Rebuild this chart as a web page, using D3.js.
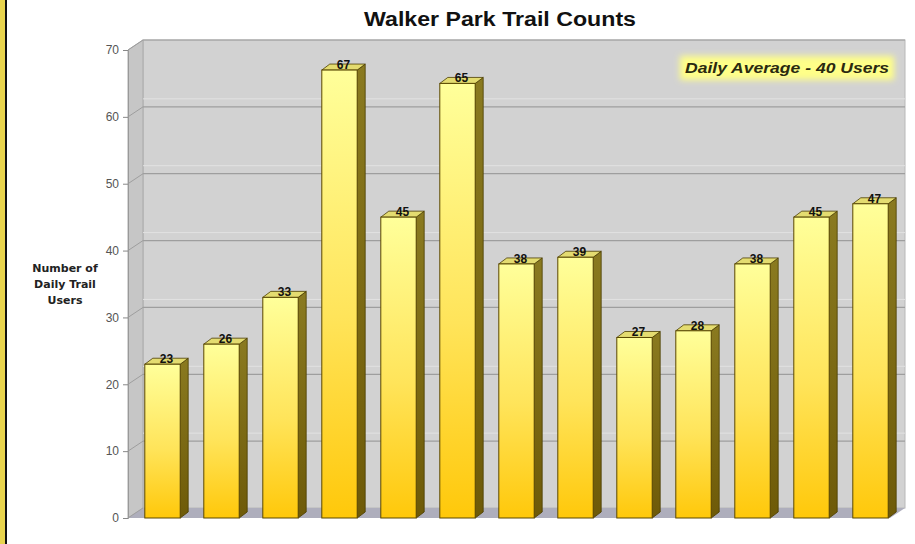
<!DOCTYPE html>
<html>
<head>
<meta charset="utf-8">
<script src="https://cdn.jsdelivr.net/npm/d3@7"></script>
<style>
  body { margin: 0; background: #fff; }
  svg { display: block; font-family: "Liberation Sans", Arial, sans-serif; }
</style>
</head>
<body>
<svg id="chart" width="915" height="544"></svg>
<script>
// data
const months = ["1", "2", "3", "4", "5", "6", "7", "8", "9", "10", "11", "12", "13"]
const users = [23, 26, 33, 67, 45, 65, 38, 39, 27, 28, 38, 45, 47]
const yTicks = [0, 10, 20, 30, 40, 50, 60, 70]
const title = "Walker Park Trail Counts"
const yLabel = ["Number of", "Daily Trail", "Users"]
const note = "Daily Average - 40 Users"

const svg = d3.select("#chart")
const wallDx = 15, wallDy = -10   // depth of the walls
const barDx = 8, barDy = -6       // depth of a bar

const y = d3.scaleLinear().domain([0, 70]).range([518, 50])
const x = d3.scaleBand().domain(months).range([133, 900])
    .paddingInner(0.4).paddingOuter(0.2)

const xLeft = 128, xRight = 890

// gradients
const defs = svg.append("defs")
let g1 = defs.append("linearGradient").attr("id", "front")
    .attr("x1", 0).attr("y1", 0).attr("x2", 0).attr("y2", 1)
g1.append("stop").attr("offset", "0%").attr("stop-color", "#ffff9a")
g1.append("stop").attr("offset", "55%").attr("stop-color", "#ffe45a")
g1.append("stop").attr("offset", "100%").attr("stop-color", "#ffc80a")
let g2 = defs.append("linearGradient").attr("id", "side")
    .attr("x1", 0).attr("y1", 0).attr("x2", 0).attr("y2", 1)
g2.append("stop").attr("offset", "0%").attr("stop-color", "#8a7a20")
g2.append("stop").attr("offset", "100%").attr("stop-color", "#6e5a08")
let glow = defs.append("filter").attr("id", "glow")
    .attr("x", "-10%").attr("y", "-40%").attr("width", "120%").attr("height", "180%")
glow.append("feGaussianBlur").attr("stdDeviation", 3)

// left page border
svg.append("rect").attr("x", 0).attr("y", 0).attr("width", 5).attr("height", 544).attr("fill", "#e8d44e")
svg.append("rect").attr("x", 5).attr("y", 0).attr("width", 2).attr("height", 544).attr("fill", "#111")

// walls and floor
svg.append("rect")
    .attr("x", xLeft + wallDx).attr("y", y(70) + wallDy)
    .attr("width", xRight - xLeft).attr("height", y(0) - y(70))
    .attr("fill", "#d2d2d2").attr("stroke", "#b8b8b8")
svg.append("polygon")
    .attr("points", [[xLeft, y(0)], [xLeft, y(70)], [xLeft + wallDx, y(70) + wallDy], [xLeft + wallDx, y(0) + wallDy]].join(" "))
    .attr("fill", "#c6c6c6").attr("stroke", "#aaa")
svg.append("polygon")
    .attr("points", [[xLeft, y(0)], [xRight, y(0)], [xRight + wallDx, y(0) + wallDy], [xLeft + wallDx, y(0) + wallDy]].join(" "))
    .attr("fill", "#aeaebc")

// gridlines
const grid = svg.append("g")
grid.selectAll("line.back").data(yTicks.filter(d => d > 0)).join("line")
    .attr("x1", xLeft + wallDx).attr("x2", xRight + wallDx)
    .attr("y1", d => y(d) + wallDy).attr("y2", d => y(d) + wallDy)
    .attr("stroke", "#9e9e9e").attr("stroke-width", 1.2)
grid.selectAll("line.hi").data(yTicks.filter(d => d > 0 && d < 70)).join("line")
    .attr("x1", xLeft + wallDx).attr("x2", xRight + wallDx)
    .attr("y1", d => y(d) + wallDy - 8).attr("y2", d => y(d) + wallDy - 8)
    .attr("stroke", "#e2e2e2").attr("stroke-width", 1)
grid.selectAll("line.side").data(yTicks).join("line")
    .attr("x1", xLeft).attr("x2", xLeft + wallDx)
    .attr("y1", d => y(d)).attr("y2", d => y(d) + wallDy)
    .attr("stroke", "#9e9e9e")

// y axis
const axis = svg.append("g").attr("transform", `translate(${xLeft},0)`)
    .call(d3.axisLeft(y).tickValues(yTicks).tickSize(5).tickPadding(4))
axis.select(".domain").attr("stroke", "#999")
axis.selectAll(".tick line").attr("stroke", "#888")
axis.selectAll(".tick text").attr("font-size", 12).attr("fill", "#555")

// bars
const bars = svg.append("g").selectAll("g").data(users).join("g")
bars.append("polygon")
    .attr("points", (d, i) => {
        let x1 = x(months[i]) + x.bandwidth(), t = y(d), b = y(0)
        return [[x1, b], [x1, t], [x1 + barDx, t + barDy], [x1 + barDx, b + barDy]].join(" ")
    })
    .attr("fill", "url(#side)").attr("stroke", "#4a3c00").attr("stroke-width", 0.8)
bars.append("polygon")
    .attr("points", (d, i) => {
        let x0 = x(months[i]), x1 = x0 + x.bandwidth(), t = y(d)
        return [[x0, t], [x1, t], [x1 + barDx, t + barDy], [x0 + barDx, t + barDy]].join(" ")
    })
    .attr("fill", "#e4dc70").attr("stroke", "#4a3c00").attr("stroke-width", 0.8)
bars.append("rect")
    .attr("x", (d, i) => x(months[i]))
    .attr("y", d => y(d))
    .attr("width", x.bandwidth())
    .attr("height", d => y(0) - y(d))
    .attr("fill", "url(#front)").attr("stroke", "#5a4800").attr("stroke-width", 1)
bars.append("text")
    .attr("x", (d, i) => x(months[i]) + x.bandwidth() / 2 + 4)
    .attr("y", d => y(d) - 1)
    .attr("text-anchor", "middle")
    .attr("font-size", 12).attr("font-weight", "bold").attr("fill", "#111")
    .text(d => d)

// title
svg.append("text").attr("x", 500).attr("y", 26).attr("text-anchor", "middle")
    .attr("font-size", 20).attr("font-weight", "bold").attr("fill", "#111")
    .attr("textLength", 272).attr("lengthAdjust", "spacingAndGlyphs")
    .text(title)

// y label
svg.append("g").selectAll("text").data(yLabel).join("text")
    .attr("x", 65).attr("y", (d, i) => 272 + i * 16)
    .attr("text-anchor", "middle")
    .attr("font-family", "'DejaVu Sans', Verdana, sans-serif")
    .attr("font-size", 11).attr("font-weight", "bold").attr("fill", "#222")
    .text(d => d)

// average note
svg.append("rect").attr("x", 680).attr("y", 56).attr("width", 214).attr("height", 24)
    .attr("fill", "#ffff88").attr("filter", "url(#glow)")
svg.append("text").attr("x", 787).attr("y", 73).attr("text-anchor", "middle")
    .attr("font-size", 15).attr("font-weight", "bold").attr("font-style", "italic")
    .attr("fill", "#2a2a10")
    .attr("textLength", 204).attr("lengthAdjust", "spacingAndGlyphs")
    .text(note)
</script>
</body>
</html>
